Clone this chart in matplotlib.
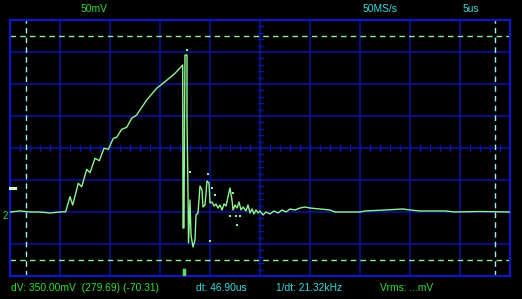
import numpy as np
import matplotlib
matplotlib.use("Agg")
import matplotlib.pyplot as plt

# time in us (5 us/div), voltage in mV relative to channel 2 ground (50 mV/div)
trace_t = [0, 1, 2, 3, 4, 5, 5.57, 6.0, 6.27, 6.83, 7.17, 7.67, 8.0, 8.5, 8.93,
           9.4, 9.83, 10.33, 10.67, 11.17, 11.67, 12.17, 12.67, 13.0, 13.67, 14.67,
           15.5, 16.5, 17.27, 17.3, 17.4, 17.45, 17.5, 17.7, 17.7, 17.8, 17.85, 18.0,
           18.1, 18.3, 18.5, 18.6, 18.8, 19.0, 19.2, 19.3, 19.5, 19.7, 19.9, 20.0,
           20.2, 20.4, 20.6, 20.8, 21.0, 21.2, 21.4, 21.6, 21.8, 22.0, 22.2, 22.3,
           22.5, 22.7, 22.9, 23.1, 23.3, 23.6, 23.8, 24.0, 24.2, 24.4, 24.6, 24.8,
           25.0, 25.3, 25.6, 26.0, 26.4, 26.8, 27.2, 27.6, 28.0, 28.5, 29.0, 29.5,
           30.0, 31.0, 32.0, 32.5, 35.0, 35.5, 37.5, 39.3, 40.0, 41.0, 43.5, 44.5,
           47.0, 50.0]
trace_v = [4.7, 6.3, 4.7, 4.7, 3.1, 4.7, 5.2, 28.6, 15.6, 49.5, 44.2, 71.4, 66.1,
           88.6, 84.8, 104.2, 102.7, 119.8, 121.4, 133.9, 137.0, 151.1, 156.3,
           164.1, 179.7, 198.0, 208.3, 221.4, 234.4, -20.3, -20.3, 148.4, 250.0,
           250.0, 148.4, 35.9, -43.8, 23.4, -31.3, -50.0, -39.1, 0.0, 3.1, 45.3,
           39.1, 12.5, 15.6, 53.1, 50.0, 18.8, 20.3, 14.1, 17.2, 10.9, 15.6, 7.8,
           17.2, 14.1, 28.1, 42.2, 23.4, 7.8, 15.6, 10.9, 20.3, 7.8, 12.5, 6.3,
           15.6, 3.1, 9.4, 1.6, 7.8, 3.1, 6.3, 0.0, 4.7, 1.6, 6.3, 3.1, 7.8, 4.7,
           9.4, 7.8, 10.9, 12.5, 10.9, 9.4, 7.8, 4.7, 4.7, 6.3, 7.8, 9.4, 7.8, 6.3,
           6.3, 4.7, 5.5, 4.7]

# stray sample dots
glitch_t = [17.65, 18.0, 19.8, 20.17, 20.5, 22.0, 22.6, 23.0, 22.3, 22.67, 20.0]
glitch_v = [257.8, 67.2, 64.1, 42.2, 31.3, -1.6, -1.6, -1.6, 34.4, -15.6, -40.6]

cursor_v = [279.69, -70.31]
cursor_t = [1.6, 48.5]
trigger_level = 43.75
trigger_time = 17.35

volts_div = "50mV"
sample_rate = "50MS/s"
time_div = "5us"
dv_text = "dV: 350.00mV  (279.69) (-70.31)"
dt_text = "dt: 46.90us"
freq_text = "1/dt: 21.32kHz"
vrms_text = "Vrms: ...mV"

W, H = 522, 299
FONT = ["Liberation Sans", "DejaVu Sans"]
GRID = "#0a14a8"
GREEN_TXT = "#33dd33"
CYAN_TXT = "#33dddd"
TRACE = "#8ff58f"

fig = plt.figure(figsize=(W / 100, H / 100), dpi=100, facecolor="black")
ax = fig.add_axes([10 / W, 23 / H, 500 / W, 256 / H])
ax.set_facecolor("black")

y_lo, y_hi = -95.3125, 304.6875
ax.set_xlim(0, 50)
ax.set_ylim(y_lo, y_hi)
ax.set_xticks([])
ax.set_yticks([])
for s in ax.spines.values():
    s.set_color("#0a18c8")
    s.set_linewidth(1.6)

# graticule
for gx in np.arange(5, 50, 5):
    ax.axvline(gx, color=GRID, lw=1.1, zorder=1)
for gy in np.arange(y_lo + 50, y_hi, 50):
    ax.axhline(gy, color=GRID, lw=1.1, zorder=1)

# small ticks on centre lines
y_mid = (y_lo + y_hi) / 2
for tx in np.arange(1, 50, 1):
    ax.plot([tx, tx], [y_mid - 4, y_mid + 4], color=GRID, lw=1.0, zorder=1)
for ty in np.arange(y_lo + 10, y_hi, 10):
    ax.plot([24.75, 25.25], [ty, ty], color=GRID, lw=1.0, zorder=1)

# cursors
for cv in cursor_v:
    ax.axhline(cv, color="#90f090", lw=1.0, dashes=(4, 3), zorder=2)
for ct in cursor_t:
    ax.axvline(ct, color="#a0f0f0", lw=1.0, dashes=(4, 3), zorder=2)

# signal
ax.plot(trace_t, trace_v, color=TRACE, lw=1.0, zorder=3)
ax.scatter(glitch_t, glitch_v, s=1.5, color=TRACE, marker="s", lw=0, zorder=3)

# markers
fig.add_artist(plt.Line2D([10 / W, 15 / W], [1 - 187.5 / H, 1 - 187.5 / H],
                          color="#c8ffc8", lw=2.2))
ax.plot([trigger_time, trigger_time], [y_lo + 1, y_lo + 10], color="#60e060", lw=2.5,
        zorder=3)
fig.text(5.5 / W, 1 - 216 / H, "2", color=GREEN_TXT, fontsize=7, family=FONT,
         ha="center", va="center")

# labels
def label(x, y, s, c):
    fig.text(x / W, 1 - y / H, s, color=c, fontsize=7.4, family=FONT,
             ha="left", va="center")

label(81, 9.5, volts_div, GREEN_TXT)
label(363, 9.5, sample_rate, CYAN_TXT)
label(463, 9.5, time_div, CYAN_TXT)
label(11, 288, dv_text, GREEN_TXT)
label(196, 288, dt_text, CYAN_TXT)
label(276, 288, freq_text, CYAN_TXT)
label(380, 288, vrms_text, GREEN_TXT)

fig.savefig("out.png", dpi=100, facecolor="black")
